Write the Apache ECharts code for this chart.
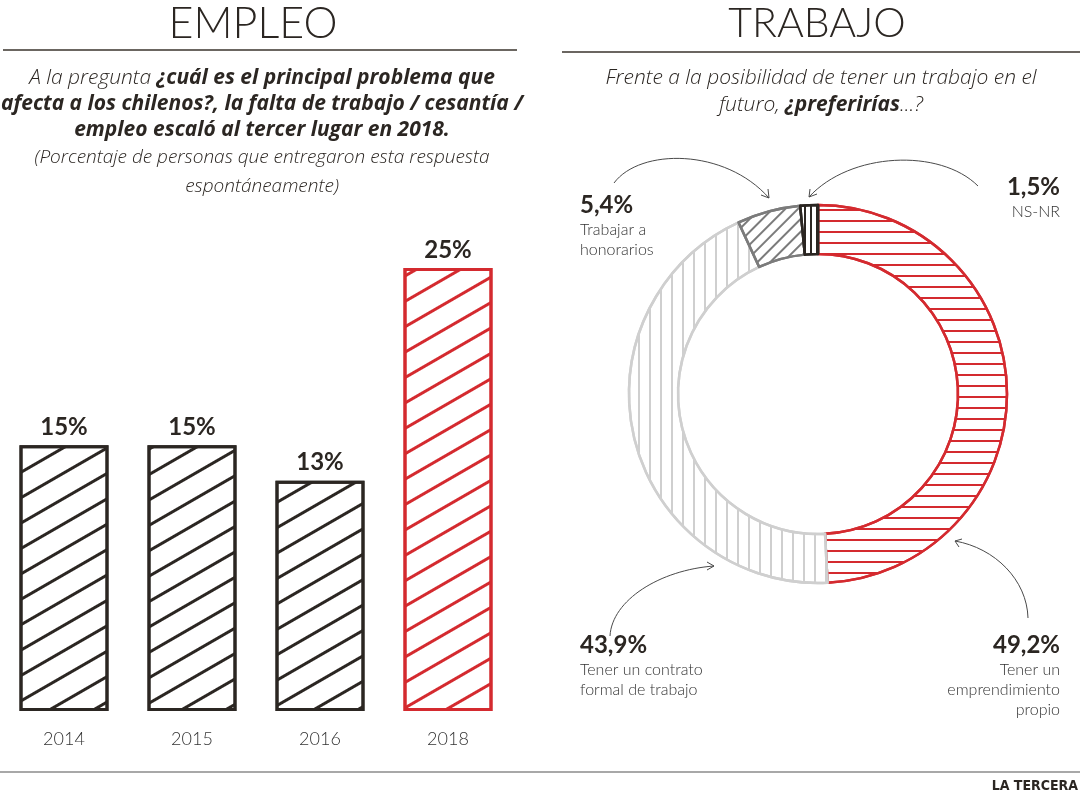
<!DOCTYPE html>
<html>
<head>
<meta charset="utf-8">
<script src="https://cdn.jsdelivr.net/npm/echarts@6/dist/echarts.min.js"></script>
<style>
html,body{margin:0;padding:0;background:#fff;}
#main{width:1080px;height:798px;}
</style>
</head>
<body>
<div id="main"></div>
<script>
// ---- data ----
const years = ['2014', '2015', '2016', '2018'];
const empleoPct = [15, 15, 13, 25];
const trabajoNames = ['Tener un\nemprendimiento\npropio', 'Tener un contrato\nformal de trabajo', 'Trabajar a\nhonorarios', 'NS-NR'];
const trabajoPct = [49.2, 43.9, 5.4, 1.5];

// ---- styles ----
const DARK = '#2b2622';
const RED = '#d42a2f';
const LGRAY = '#cfcfcf';
const DGRAY = '#7b7b7b';
const FONT = 'Lato, "Open Sans", sans-serif';
const SUBFONT = '"Open Sans", Lato, sans-serif';

const chart = echarts.init(document.getElementById('main'), null, {renderer: 'canvas'});

function barDecal(color) {
  return {symbol: 'rect', symbolSize: 1, dashArrayX: [1, 0], dashArrayY: [3, 19], rotation: -Math.PI / 6, color: color};
}

const barData = empleoPct.map((v, i) => {
  const c = years[i] === '2018' ? RED : DARK;
  return {value: v, itemStyle: {color: '#fff', borderColor: c, borderWidth: 3, decal: barDecal(c)}};
});

const pieStyles = [
  {color: '#fff', borderColor: RED, borderWidth: 2.5, decal: {symbol: 'rect', symbolSize: 1, dashArrayX: [1, 0], dashArrayY: [2, 8.5], color: RED}},
  {color: '#fff', borderColor: LGRAY, borderWidth: 2.5, decal: {symbol: 'rect', symbolSize: 1, dashArrayX: [2, 9], dashArrayY: [1, 0], color: LGRAY}},
  {color: '#fff', borderColor: DGRAY, borderWidth: 2.5, decal: {symbol: 'rect', symbolSize: 1, dashArrayX: [1, 0], dashArrayY: [2, 7], rotation: -Math.PI / 4, color: DGRAY}},
  {color: '#fff', borderColor: DARK, borderWidth: 2.5, decal: {symbol: 'rect', symbolSize: 1, dashArrayX: [2, 4], dashArrayY: [1, 0], color: DARK}}
];
const pieData = trabajoPct.map((v, i) => ({value: v, name: trabajoNames[i], itemStyle: pieStyles[i]}));

const pieLabelPos = [
  {x: 1060, y: 630, align: 'right', verticalAlign: 'top'},
  {x: 580, y: 630, align: 'left', verticalAlign: 'top'},
  {x: 580, y: 190, align: 'left', verticalAlign: 'top'},
  {x: 1060, y: 172, align: 'right', verticalAlign: 'top'}
];

function fmt(v) { return v.toFixed(1).replace('.', ',') + '%'; }

const arrowStyle = {stroke: '#4a4a4a', lineWidth: 1, fill: null};
function arrow(p0, c1, c2, p1, h1, h2) {
  return [
    {type: 'bezierCurve', silent: true, shape: {x1: p0[0], y1: p0[1], cpx1: c1[0], cpy1: c1[1], cpx2: c2[0], cpy2: c2[1], x2: p1[0], y2: p1[1]}, style: arrowStyle},
    {type: 'polyline', silent: true, shape: {points: [h1, p1, h2]}, style: arrowStyle}
  ];
}

const option = {
  backgroundColor: '#fff',
  animation: false,
  grid: {left: 0, width: 512, top: 268, bottom: 87, containLabel: false},
  xAxis: {
    type: 'category', data: years,
    axisLine: {show: false}, axisTick: {show: false},
    axisLabel: {color: '#333', fontFamily: FONT, fontWeight: 300, fontSize: 18, margin: 19}
  },
  yAxis: {type: 'value', min: 0, max: 25, show: false, splitLine: {show: false}},
  series: [
    {
      type: 'bar', data: barData, barWidth: 89,
      label: {show: true, position: 'top', distance: 6, formatter: '{c}%', color: DARK, fontFamily: FONT, fontWeight: 'bold', fontSize: 24},
      emphasis: {disabled: true}
    },
    {
      type: 'pie', center: [818, 394], radius: [140, 189], startAngle: 90, clockwise: true,
      data: pieData, emphasis: {disabled: true},
      label: {
        show: true, position: 'outside', overflow: 'none',
        formatter: p => '{v|' + fmt(p.value) + '}\n{n|' + p.name + '}',
        rich: {
          v: {fontFamily: FONT, fontWeight: 'bold', fontSize: 24, color: DARK, lineHeight: 30},
          n: {fontFamily: FONT, fontWeight: 300, fontSize: 16, color: '#333', lineHeight: 20}
        }
      },
      labelLine: {show: false},
      labelLayout: p => pieLabelPos[p.dataIndex]
    }
  ],
  graphic: [
    {type: 'text', silent: true, style: {text: 'EMPLEO', x: 253, y: 3, align: 'center', verticalAlign: 'top', fill: DARK, fontFamily: FONT, fontWeight: 300, fontSize: 43}},
    {type: 'text', silent: true, style: {text: 'TRABAJO', x: 817, y: 3, align: 'center', verticalAlign: 'top', fill: DARK, fontFamily: FONT, fontWeight: 300, fontSize: 41}},
    {type: 'line', silent: true, shape: {x1: 3, y1: 50, x2: 517, y2: 50}, style: {stroke: '#3a332d', lineWidth: 1.6}},
    {type: 'line', silent: true, shape: {x1: 562, y1: 52, x2: 1080, y2: 52}, style: {stroke: '#3a332d', lineWidth: 1.6}},
    {type: 'text', silent: true, style: {
      x: 262, y: 65, align: 'center', verticalAlign: 'top',
      text: '{n|A la pregunta }{b|¿cuál es el principal problema que}\n{b|afecta a los chilenos?, la falta de trabajo / cesantía /}\n{b|empleo escaló al tercer lugar en 2018.}\n{s|(Porcentaje de personas que entregaron esta respuesta}\n{s|espontáneamente)}',
      rich: {
        n: {fontFamily: SUBFONT, fontStyle: 'italic', fontWeight: 300, fontSize: 21, lineHeight: 26, fill: DARK},
        b: {fontFamily: SUBFONT, fontStyle: 'italic', fontWeight: 'bold', fontSize: 21, lineHeight: 26, fill: DARK},
        s: {fontFamily: SUBFONT, fontStyle: 'italic', fontWeight: 300, fontSize: 19, lineHeight: 29, fill: DARK}
      }
    }},
    {type: 'text', silent: true, style: {
      x: 821, y: 65, align: 'center', verticalAlign: 'top',
      text: '{n|Frente a la posibilidad de tener un trabajo en el}\n{n|futuro, }{b|¿preferirías}{n|...?}',
      rich: {
        n: {fontFamily: SUBFONT, fontStyle: 'italic', fontWeight: 300, fontSize: 21, lineHeight: 27, fill: DARK},
        b: {fontFamily: SUBFONT, fontStyle: 'italic', fontWeight: 'bold', fontSize: 21, lineHeight: 27, fill: DARK}
      }
    }},
    ...arrow([614, 183], [640, 148], [725, 148], [769, 198], [761, 195], [768, 189]),
    ...arrow([978, 186], [940, 148], [850, 152], [809, 197], [810, 189], [817, 194]),
    ...arrow([610, 636], [612, 600], [660, 570], [714, 566], [707, 562], [707, 570]),
    ...arrow([1028, 618], [1027, 580], [995, 548], [955, 541], [962, 539], [959, 547]),
    {type: 'line', silent: true, shape: {x1: 0, y1: 772, x2: 1080, y2: 772}, style: {stroke: '#a8a8a8', lineWidth: 2}},
    {type: 'text', silent: true, style: {text: 'LA TERCERA', x: 1078, y: 786, align: 'right', verticalAlign: 'middle', fill: DARK, fontFamily: '"Liberation Sans Narrow", "DejaVu Sans Condensed", sans-serif', fontWeight: 'bold', fontSize: 14}}
  ]
};
chart.setOption(option);
</script>
</body>
</html>
